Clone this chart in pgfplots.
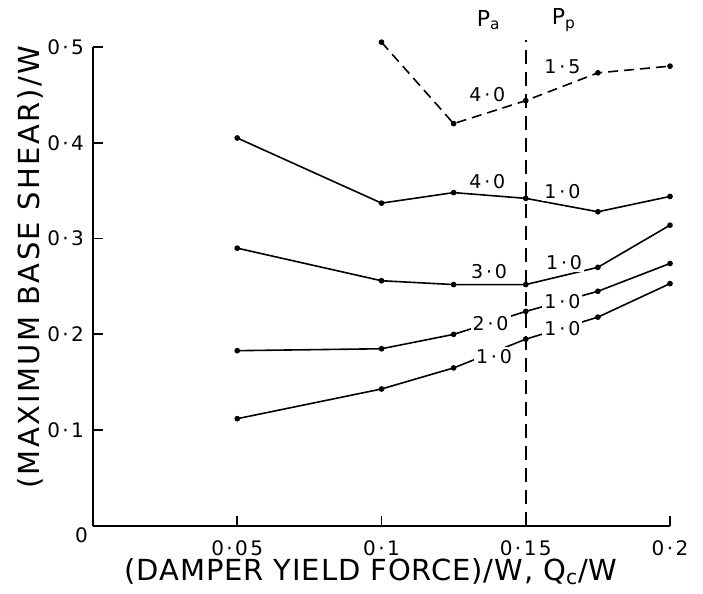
\documentclass[border=0pt]{standalone}
\usepackage{fontspec}
\setmainfont{DejaVu Sans}
\newfontfamily\tickfont[LetterSpace=12]{DejaVu Sans}
\newfontfamily\curvefont[LetterSpace=15]{DejaVu Sans}
\newfontfamily\xlabfont[LetterSpace=3]{DejaVu Sans}
\newfontfamily\ylabfont[LetterSpace=8]{DejaVu Sans}
\usepackage{pgfplots}
\pgfplotsset{compat=1.18}
\usetikzlibrary{calc}

\begin{document}
\begin{tikzpicture}[lbl/.style={font=\curvefont\fontsize{9.5}{10}\selectfont, fill=white, inner sep=1pt}]
\begin{axis}[
    scale only axis,
    width=288.5pt, height=239.5pt,
    xmin=0, xmax=0.2, ymin=0, ymax=0.5,
    axis x line*=bottom, axis y line*=left,
    axis line style={line width=0.9pt},
    clip=false,
    tick align=inside,
    major tick length=5pt,
    tick style={solid, draw=black, line width=0.9pt},
    xtick={0.05,0.1,0.15,0.2},
    xticklabels={0·05,0·1,0·15,0·2},
    ytick={0.1,0.2,0.3,0.4,0.5},
    yticklabels={0·1,0·2,0·3,0·4,0·5},
    tick label style={font=\tickfont\fontsize{10}{11}\selectfont},
    xticklabel style={yshift=-4pt},
    yticklabel style={xshift=-1pt},
    xlabel={\xlabfont(DAMPER YIELD FORCE)/W, Q\textsubscript{c}/W},
    ylabel={\ylabfont(MAXIMUM BASE SHEAR)/W},
    label style={font=\fontsize{14.5}{16}\selectfont},
    xlabel style={at={(axis description cs:0.482,-0.096)}, anchor=center},
    ylabel style={at={(axis description cs:-0.109,0.54)}, anchor=center},
    crv/.style={black, solid, line width=0.8pt, mark=*, mark size=1pt},
]
% P_a = 1.0, P_p = 1.0
\addplot[crv] coordinates {(0.05,0.112) (0.1,0.143) (0.125,0.165) (0.15,0.195) (0.175,0.218) (0.2,0.253)};
% 2.0 / 1.0
\addplot[crv] coordinates {(0.05,0.183) (0.1,0.185) (0.125,0.200) (0.15,0.224) (0.175,0.245) (0.2,0.274)};
% 3.0 / 1.0
\addplot[crv] coordinates {(0.05,0.290) (0.1,0.256) (0.125,0.252) (0.15,0.252) (0.175,0.270) (0.2,0.314)};
% 4.0 / 1.0
\addplot[crv] coordinates {(0.05,0.405) (0.1,0.337) (0.125,0.348) (0.15,0.342) (0.175,0.328) (0.2,0.344)};
% 4.0 / 1.5 (dashed)
\addplot[crv, dash pattern=on 5pt off 3pt, mark options={solid}] coordinates {(0.1,0.505) (0.125,0.420) (0.15,0.444) (0.175,0.473) (0.2,0.480)};
% vertical dashed line at 0.15
\addplot[black, mark=none, line width=0.8pt, dash pattern=on 7pt off 4pt] coordinates {(0.15,0) (0.15,0.507)};

\node[lbl] at (axis cs:0.139,0.177) {1·0};
\node[lbl] at (axis cs:0.1627,0.206) {1·0};
\node[lbl] at (axis cs:0.1378,0.2116) {2·0};
\node[lbl] at (axis cs:0.1627,0.2338) {1·0};
\node[lbl] at (axis cs:0.1373,0.2655) {3·0};
\node[lbl] at (axis cs:0.1633,0.2749) {1·0};
\node[lbl] at (axis cs:0.1367,0.3594) {4·0};
\node[lbl] at (axis cs:0.1627,0.349) {1·0};
\node[lbl] at (axis cs:0.1367,0.4499) {4·0};
\node[lbl] at (axis cs:0.1627,0.4795) {1·5};
\node[font=\fontsize{11}{12}\selectfont] at (axis cs:0.1372,0.528) {P\textsubscript{a}};
\node[font=\fontsize{11}{12}\selectfont] at (axis cs:0.1632,0.528) {P\textsubscript{p}};
\node[font=\fontsize{10}{11}\selectfont] at ($(axis cs:0,0)+(-5.7pt,-4.5pt)$) {0};
\end{axis}
\pgfresetboundingbox
\path ($(current axis.south west)+(-46.5pt,-34pt)$) rectangle ($(current axis.north east)+(16.5pt,23.5pt)$);
\end{tikzpicture}
\end{document}
